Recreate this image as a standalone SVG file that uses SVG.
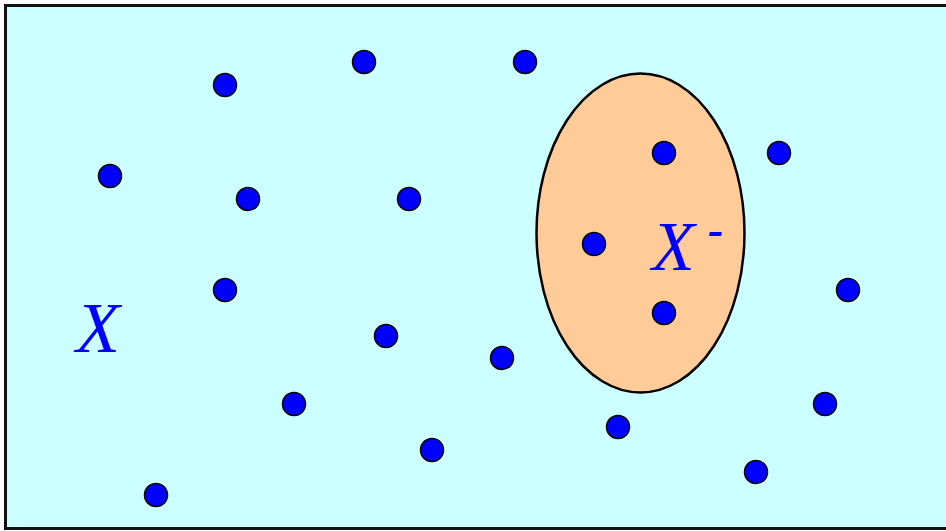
<svg xmlns="http://www.w3.org/2000/svg" width="946" height="531" viewBox="0 0 946 531">
<style>
.dot{fill:#0000ff;stroke:#000;stroke-width:1.5}
.lbl{font-family:"Liberation Serif",serif;font-style:italic;fill:#0000ff}
</style>
<rect id="universe" x="5.5" y="5.5" width="950" height="523" fill="#ccffff" stroke="#111" stroke-width="3"/>
<g id="subset">
<ellipse cx="640.5" cy="233" rx="104" ry="159.5" fill="#ffcc99" stroke="#000" stroke-width="2.5"/>
<text class="lbl" x="652" y="270" font-size="70">X</text>
<text class="lbl" x="708" y="245" font-size="46" font-weight="bold" font-style="normal">-</text>
</g>
<g id="label-X"><text class="lbl" x="76" y="352" font-size="72">X</text></g>
<g id="points">
<circle class="dot" cx="225" cy="85" r="11.5"/>
<circle class="dot" cx="364" cy="62" r="11.5"/>
<circle class="dot" cx="525" cy="62" r="11.5"/>
<circle class="dot" cx="110" cy="176" r="11.5"/>
<circle class="dot" cx="248" cy="199" r="11.5"/>
<circle class="dot" cx="409" cy="199" r="11.5"/>
<circle class="dot" cx="664" cy="153" r="11.5"/>
<circle class="dot" cx="779" cy="153" r="11.5"/>
<circle class="dot" cx="594" cy="244" r="11.5"/>
<circle class="dot" cx="225" cy="290" r="11.5"/>
<circle class="dot" cx="848" cy="290" r="11.5"/>
<circle class="dot" cx="664" cy="313" r="11.5"/>
<circle class="dot" cx="386" cy="336" r="11.5"/>
<circle class="dot" cx="502" cy="358" r="11.5"/>
<circle class="dot" cx="294" cy="404" r="11.5"/>
<circle class="dot" cx="825" cy="404" r="11.5"/>
<circle class="dot" cx="618" cy="427" r="11.5"/>
<circle class="dot" cx="432" cy="450" r="11.5"/>
<circle class="dot" cx="756" cy="472" r="11.5"/>
<circle class="dot" cx="156" cy="495" r="11.5"/>
</g>
</svg>
